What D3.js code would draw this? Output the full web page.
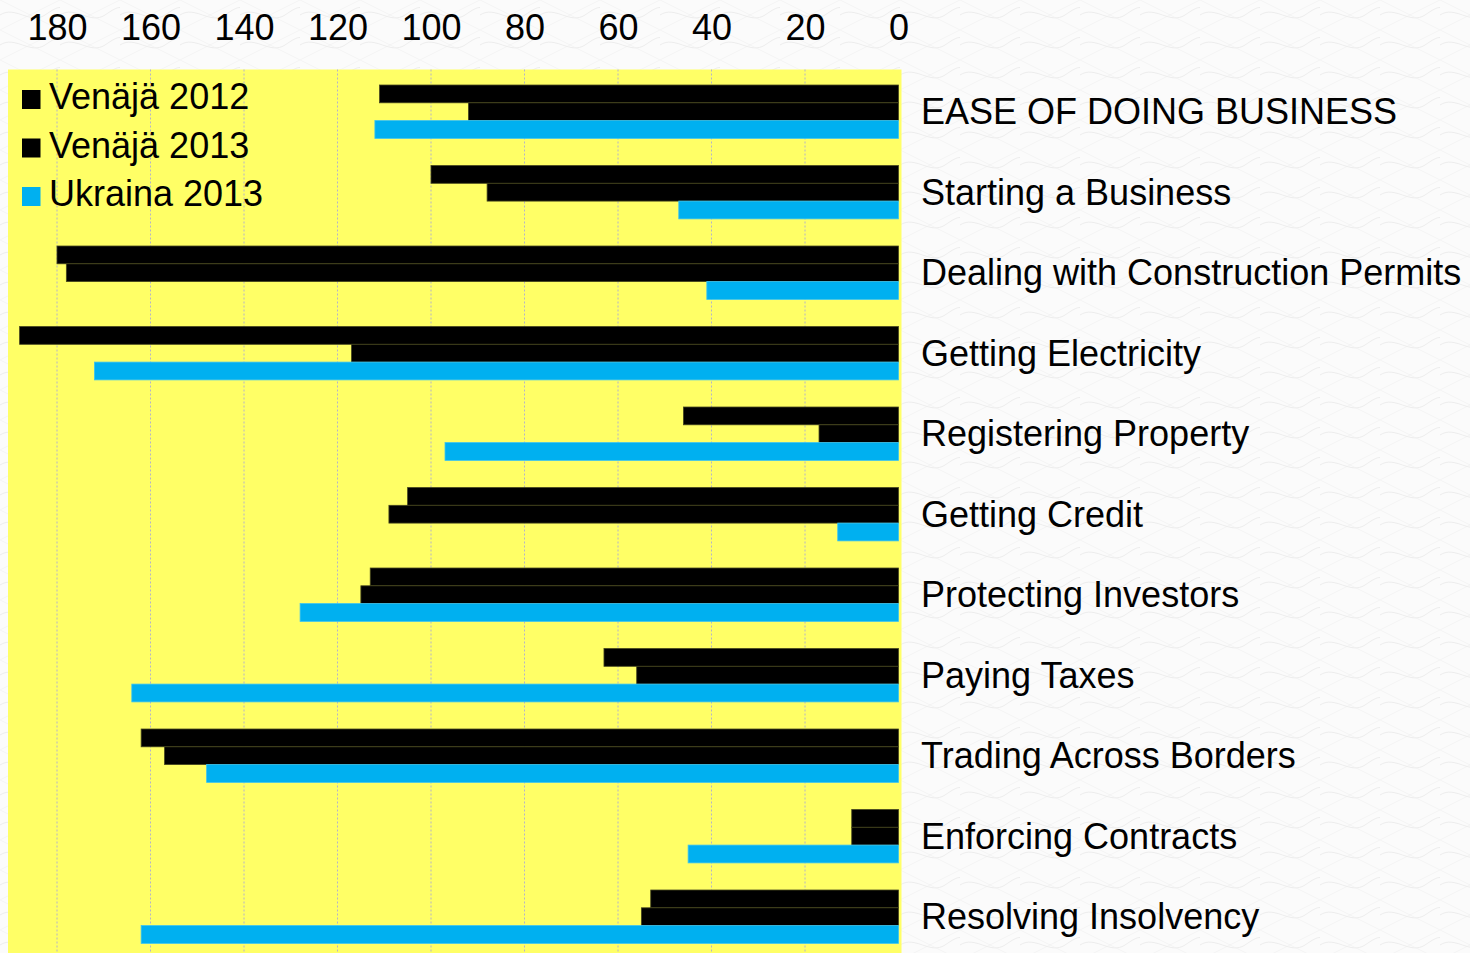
<!DOCTYPE html>
<html>
<head>
<meta charset="utf-8">
<script src="https://cdn.jsdelivr.net/npm/d3@7"></script>
<style>
  html, body { margin: 0; padding: 0; background: #ffffff; overflow: hidden; }
  #chart text { font-family: Arial, "Liberation Sans", sans-serif; fill: #000; }
</style>
</head>
<body>
<div id="chart"></div>
<script>
// Doing Business ranks (lower = better)
const categories = [
    "EASE OF DOING BUSINESS",
    "Starting a Business",
    "Dealing with Construction Permits",
    "Getting Electricity",
    "Registering Property",
    "Getting Credit",
    "Protecting Investors",
    "Paying Taxes",
    "Trading Across Borders",
    "Enforcing Contracts",
    "Resolving Insolvency"
];
const seriesNames = ["Venäjä 2012", "Venäjä 2013", "Ukraina 2013"];
const russia2012 = [111, 100, 180, 188, 46, 105, 113, 63, 162, 10, 53];
const russia2013 = [92, 88, 178, 117, 17, 109, 115, 56, 157, 10, 55];
const ukraine2013 = [112, 47, 41, 172, 97, 13, 128, 164, 148, 45, 162];
const tickValues = [180, 160, 140, 120, 100, 80, 60, 40, 20, 0];

document.addEventListener('DOMContentLoaded', function() {
    const W = 1470, H = 953;
    const plot = { left: 8, right: 901.5, top: 69.5, bottom: 953 };

    const svg = d3.select("#chart")
        .append("svg")
        .attr("width", W)
        .attr("height", H);

    // faint wavy background texture
    const defs = svg.append("defs");
    const pat = defs.append("pattern")
        .attr("id", "waves")
        .attr("width", 60)
        .attr("height", 30)
        .attr("patternUnits", "userSpaceOnUse");
    pat.append("path")
        .attr("d", "M0,15 C15,5 30,25 45,15 S60,5 75,15")
        .attr("fill", "none").attr("stroke", "#e9e9e9").attr("stroke-width", 0.8);
    pat.append("path")
        .attr("d", "M0,0 L60,30 M0,30 L60,0")
        .attr("fill", "none").attr("stroke", "#efefef").attr("stroke-width", 0.6);
    svg.append("rect").attr("width", W).attr("height", H).attr("fill", "#fbfbfb");
    svg.append("rect").attr("width", W).attr("height", H).attr("fill", "url(#waves)");

    // scales: ranks run right to left
    const x = d3.scaleLinear()
        .domain([0, 180])
        .range([898.5, 57]);

    const y = d3.scaleBand()
        .domain(categories)
        .range([71.45, 956.95])
        .paddingInner(0.337)
        .paddingOuter(0.1685);

    const ySub = d3.scaleBand()
        .domain(seriesNames)
        .range([0, y.bandwidth()]);

    const color = d3.scaleOrdinal()
        .domain(seriesNames)
        .range(["#000000", "#000000", "#00b0f0"]);

    // plot area
    svg.append("rect")
        .attr("x", plot.left)
        .attr("y", plot.top)
        .attr("width", plot.right - plot.left)
        .attr("height", plot.bottom - plot.top)
        .attr("fill", "#ffff66");

    // dotted gridlines
    svg.append("g")
        .selectAll("line")
        .data(tickValues.filter(d => d > 0))
        .enter()
        .append("line")
        .attr("x1", d => x(d))
        .attr("x2", d => x(d))
        .attr("y1", plot.top)
        .attr("y2", plot.bottom)
        .attr("stroke", "#b4b4c8")
        .attr("stroke-width", 1)
        .attr("stroke-dasharray", "2,2");

    // top axis labels
    const axis = svg.append("g")
        .attr("transform", "translate(0,39.5)")
        .call(d3.axisTop(x).tickValues(tickValues).tickSize(0).tickPadding(0));
    axis.select(".domain").remove();
    axis.selectAll("text")
        .attr("font-size", "36px")
        .attr("fill", "#000")
        .attr("dy", 0)
        .style("font-family", "Arial, 'Liberation Sans', sans-serif");

    // bars
    const rows = categories.map((c, i) => ({
        cat: c,
        values: [russia2012[i], russia2013[i], ukraine2013[i]]
    }));

    const groups = svg.append("g")
        .selectAll("g")
        .data(rows)
        .enter()
        .append("g")
        .attr("transform", d => `translate(0,${y(d.cat)})`);

    groups.selectAll("rect")
        .data(d => d.values.map((v, j) => ({ name: seriesNames[j], value: v })))
        .enter()
        .append("rect")
        .attr("x", d => x(d.value))
        .attr("y", d => ySub(d.name))
        .attr("width", d => x(0) - x(d.value))
        .attr("height", ySub.bandwidth())
        .attr("fill", d => color(d.name))
        .attr("stroke", d => d.name === "Ukraina 2013" ? "#3cc3f0" : "#45451f")
        .attr("stroke-width", 0.8);

    // category labels on the right
    svg.append("g")
        .selectAll("text")
        .data(categories)
        .enter()
        .append("text")
        .attr("x", 921)
        .attr("y", d => y(d) + y.bandwidth() / 2 + 12.5)
        .attr("font-size", "36px")
        .text(d => d);

    // legend
    const legend = svg.append("g")
        .selectAll("g")
        .data(seriesNames)
        .enter()
        .append("g")
        .attr("transform", (d, i) => `translate(22,${109 + i * 48.5})`);

    legend.append("rect")
        .attr("x", 0)
        .attr("y", -19)
        .attr("width", 18.5)
        .attr("height", 19)
        .attr("fill", d => color(d));

    legend.append("text")
        .attr("x", 27)
        .attr("y", 0)
        .attr("font-size", "36px")
        .text(d => d);
});
</script>
</body>
</html>
